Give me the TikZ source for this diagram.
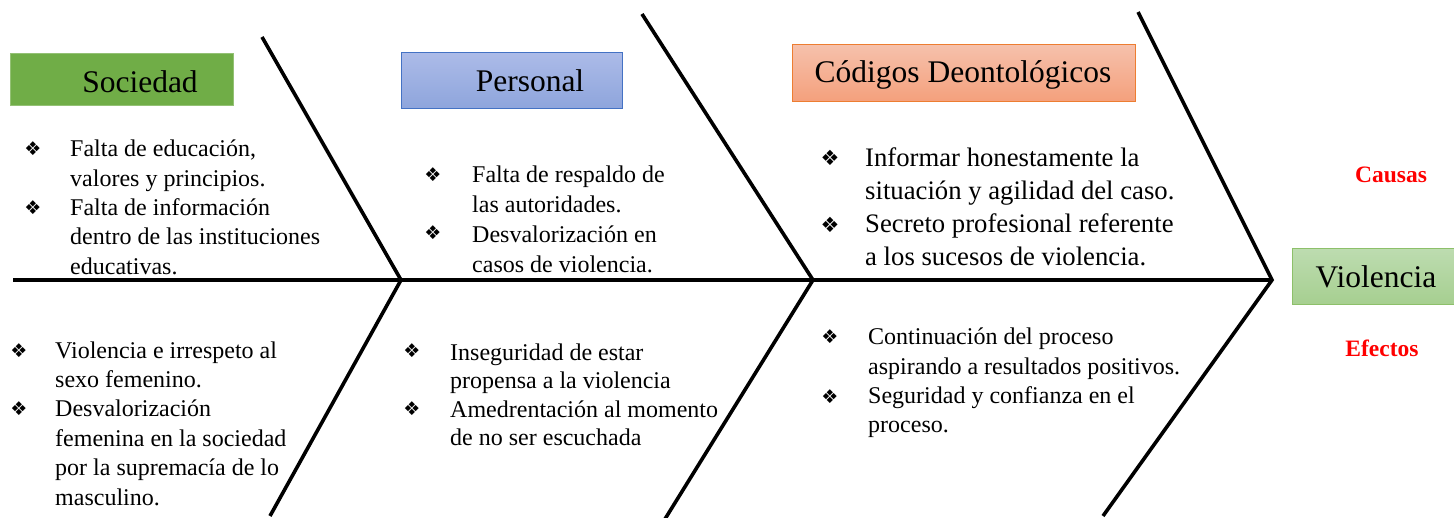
\documentclass[tikz,border=0pt]{standalone}
\usepackage{fontspec}
\setmainfont{Liberation Serif}
\newfontfamily\symfont{DejaVu Sans}
\definecolor{socgreen}{HTML}{70AD47}
\definecolor{persTop}{HTML}{ACBBE8}
\definecolor{persBot}{HTML}{8EA5DC}
\definecolor{persBorder}{HTML}{4472C4}
\definecolor{codTop}{HTML}{F6C1AC}
\definecolor{codBot}{HTML}{F4A07C}
\definecolor{codBorder}{HTML}{ED7D31}
\definecolor{vioTop}{HTML}{BDDCB0}
\definecolor{vioBot}{HTML}{A6CF90}
\definecolor{vioBorder}{HTML}{8DC06A}
\begin{document}
\begin{tikzpicture}[x=1pt,y=-1pt,
  bone/.style={line width=3.6pt, line join=miter},
  hbox/.style={inner sep=0, anchor=north west, line width=0.9pt},
  hdr/.style={anchor=base, inner sep=0, font=\fontsize{31.5}{31.5}\selectfont},
  body/.style={anchor=base west, inner sep=0, align=left, font=\fontsize{24}{29.4}\selectfont},
  bodybig/.style={anchor=base west, inner sep=0, align=left, font=\fontsize{26.7}{32.8}\selectfont},
  bul/.style={inner sep=0, font=\symfont\fontsize{19}{19}\selectfont},
  bulbig/.style={inner sep=0, font=\symfont\fontsize{21}{21}\selectfont},
  lbl/.style={anchor=base, inner sep=0, text=red, font=\bfseries\fontsize{23.5}{23.5}\selectfont}]
\useasboundingbox (0,0) rectangle (1454,518);
\fill[white] (0,0) rectangle (1454,518);

% header boxes
\node[hbox, fill=socgreen, draw=socgreen!75!white, minimum width=223pt, minimum height=52pt] (socbox) at (10,53) {};
\node[hbox, top color=persTop, bottom color=persBot, draw=persBorder, minimum width=221pt, minimum height=56pt] (persbox) at (401,52) {};
\node[hbox, top color=codTop, bottom color=codBot, draw=codBorder, minimum width=343pt, minimum height=57pt] (codbox) at (792,44) {};
\node[hbox, top color=vioTop, bottom color=vioBot, draw=vioBorder, minimum width=180pt, minimum height=56pt] (viobox) at (1292,248) {};

\node[hdr] (soc) at (140,93) {Sociedad};
\node[hdr] (pers) at (530,92) {Personal};
\node[hdr] (cod) at (963,83) {Códigos Deontológicos};
\node[hdr] (vio) at (1376,288) {Violencia};

\node[lbl] (causas) at (1391,183) {Causas};
\node[lbl] (efectos) at (1382,357) {Efectos};

% skeleton
\coordinate (s0) at (13,280);
\coordinate (j1) at (401,280);
\coordinate (j2) at (813,280);
\coordinate (j3) at (1272,280);
\coordinate (u1) at (262,37);
\coordinate (u2) at (642,14);
\coordinate (u3) at (1138,12);
\coordinate (l1) at (270,516);
\coordinate (l2) at (665,519);
\coordinate (l3) at (1103,516);
\draw[bone] (s0) -- (j3);
\draw[bone] (u1) -- (j1) -- (l1);
\draw[bone] (u2) -- (j2) -- (l2);
\draw[bone] (u3) -- (j3) -- (l3);

% upper texts (anchor = baseline of the last line)
\node[bul] (b1) at (33,149) {❖};
\node[bul] (b2) at (33,208) {❖};
\node[body, font=\fontsize{24}{29.3}\selectfont] (t1) at (70,274.2) {Falta de educación,\\valores y principios.\\Falta de información\\dentro de las instituciones\\educativas.};

\node[bul] (b3) at (433,175) {❖};
\node[bul] (b4) at (433,233) {❖};
\node[body, font=\fontsize{24}{29.7}\selectfont] (t2) at (472,272.1) {Falta de respaldo de\\las autoridades.\\Desvalorización en\\casos de violencia.};

\node[bulbig] (b5) at (830,158) {❖};
\node[bulbig] (b6) at (830,225) {❖};
\node[bodybig] (t3) at (865,265.4) {Informar honestamente la\\situación y agilidad del caso.\\Secreto profesional referente\\a los sucesos de violencia.};

% lower texts
\node[bul] (b7) at (19,351) {❖};
\node[bul] (b8) at (19,409) {❖};
\node[body] (t4) at (55,505) {Violencia e irrespeto al\\sexo femenino.\\Desvalorización\\femenina en la sociedad\\por la supremacía de lo\\masculino.};

\node[bul] (b9) at (412,351) {❖};
\node[bul] (b10) at (412,409) {❖};
\node[body, font=\fontsize{24}{28.6}\selectfont] (t5) at (450,445.8) {Inseguridad de estar\\propensa a la violencia\\Amedrentación al momento\\de no ser escuchada};

\node[bul] (b11) at (830,337) {❖};
\node[bul] (b12) at (830,397) {❖};
\node[body, font=\fontsize{24}{29.3}\selectfont] (t6) at (868,432.9) {Continuación del proceso\\aspirando a resultados positivos.\\Seguridad y confianza en el\\proceso.};
\end{tikzpicture}
\end{document}
